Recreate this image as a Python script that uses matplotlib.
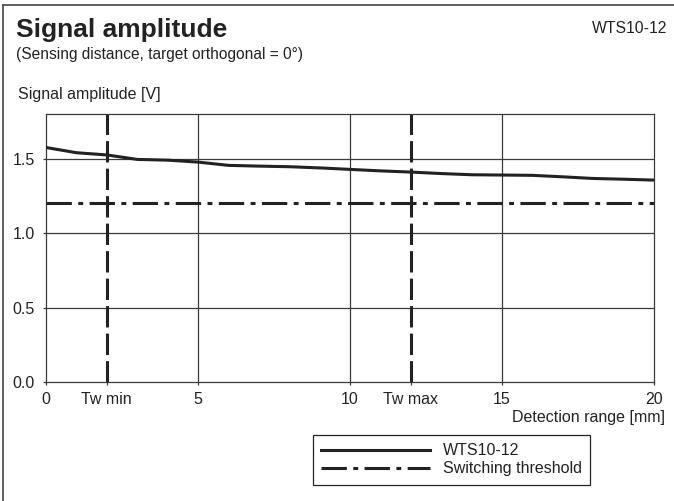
import matplotlib
matplotlib.use("Agg")
import matplotlib.pyplot as plt
from matplotlib.lines import Line2D

plt.rcParams['font.family'] = ['Liberation Sans', 'DejaVu Sans']

# data
distance = [0, 1, 2, 3, 4, 5, 6, 7, 8, 9, 10, 11, 12, 13, 14, 15, 16, 17, 18, 19, 20]
amplitude = [1.575, 1.54, 1.525, 1.495, 1.49, 1.477, 1.455, 1.45, 1.446, 1.438, 1.428,
             1.418, 1.41, 1.4, 1.392, 1.39, 1.388, 1.378, 1.367, 1.362, 1.356]
threshold = 1.2
tw_min, tw_max = 2, 12
xticks = [0, tw_min, 5, 10, tw_max, 15, 20]
xticklabels = ["0", "Tw min", "5", "10", "Tw max", "15", "20"]
yticks = [0.0, 0.5, 1.0, 1.5]
yticklabels = ["0.0", "0.5", "1.0", "1.5"]

W, H = 674, 501
ink = "#222222"
gridc = "#3a3a3a"

fig = plt.figure(figsize=(W / 100, H / 100), dpi=100)
ax = fig.add_axes([46 / W, 1 - 382 / H, (654 - 46) / W, (382 - 114) / H])

# grid
for xv in [5, 10, 15]:
    ax.axvline(xv, color=gridc, lw=0.9, zorder=1)
for yv in [0.5, 1.0, 1.5]:
    ax.axhline(yv, color=gridc, lw=0.9, zorder=1)

# Tw min / Tw max
for xv in [tw_min, tw_max]:
    ax.axvline(xv, color=ink, lw=2.2, ls=(0, (7, 2)), zorder=2)

# threshold and curve
ax.axhline(threshold, color=ink, lw=2.2, ls=(0, (8.3, 2.1, 1.6, 2.1)), zorder=3,
           label="Switching threshold")
ax.plot(distance, amplitude, color=ink, lw=2.2, zorder=4, label="WTS10-12")

ax.set_xlim(0, 20)
ax.set_ylim(0, 1.8)
ax.set_xticks(xticks)
ax.set_xticklabels(xticklabels)
ax.set_yticks(yticks)
ax.set_yticklabels(yticklabels)
ax.tick_params(axis="both", direction="out", length=2.5, width=0.9, color=gridc,
               labelsize=11.5, labelcolor=ink)
ax.tick_params(axis="x", pad=4.5)
ax.tick_params(axis="y", pad=5.5)
for s in ax.spines.values():
    s.set_color(gridc)
    s.set_linewidth(0.9)

# legend
h_line = Line2D([], [], color=ink, lw=2.2)
h_thr = Line2D([], [], color=ink, lw=2.2, ls=(0, (8.3, 2.1, 1.6, 2.1)))
leg = fig.legend([h_line, h_thr], ["WTS10-12", "Switching threshold"],
                 loc="upper left", bbox_to_anchor=(313 / W, 1 - 435 / H),
                 borderaxespad=0, handlelength=6.8, handletextpad=0.8,
                 borderpad=0.52, labelspacing=0.2, fontsize=11.5,
                 fancybox=False, framealpha=1)
leg.get_frame().set_edgecolor(ink)
leg.get_frame().set_linewidth(0.9)
for t in leg.get_texts():
    t.set_color(ink)

# texts
fig.text(16 / W, 1 - 37 / H, "Signal amplitude", fontsize=19, fontweight="bold",
         color=ink, va="baseline", ha="left")
fig.text(16 / W, 1 - 59 / H, "(Sensing distance, target orthogonal = 0°)", fontsize=11.2,
         color=ink, va="baseline", ha="left")
fig.text(667 / W, 1 - 33 / H, "WTS10-12", fontsize=11.3, color=ink,
         va="baseline", ha="right")
fig.text(18 / W, 1 - 99 / H, "Signal amplitude [V]", fontsize=11.5, color=ink,
         va="baseline", ha="left")
fig.text(665 / W, 1 - 422 / H, "Detection range [mm]", fontsize=11.5, color=ink,
         va="baseline", ha="right")

# page border (left and top)
fig.add_artist(Line2D([2.5 / W, 2.5 / W], [0, 1 - 5 / H], color="#444444", lw=1.2))
fig.add_artist(Line2D([2.5 / W, 1], [1 - 5 / H, 1 - 5 / H], color="#444444", lw=1.2))

fig.savefig("out.png", dpi=100)
